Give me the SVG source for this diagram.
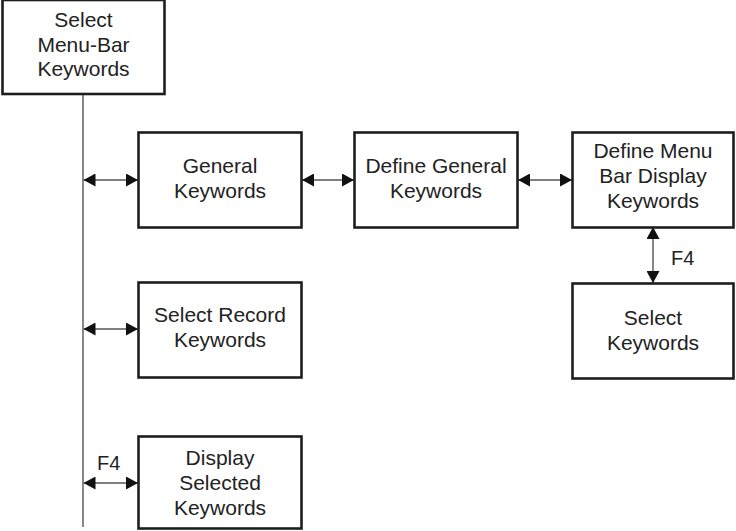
<svg xmlns="http://www.w3.org/2000/svg" width="736" height="531" viewBox="0 0 736 531">
  <style>
    .box { fill: #ffffff; stroke: #1e1e1e; stroke-width: 2.6; }
    .lbl { font-family: "Liberation Sans", Arial, sans-serif; font-size: 21px; fill: #222222; text-anchor: middle; }
    .tag { font-family: "Liberation Sans", Arial, sans-serif; font-size: 20px; fill: #222222; }
    .wire { fill: none; stroke: #555555; stroke-width: 1.4; }
    .link { fill: none; stroke: #555555; stroke-width: 1.4; marker-start: url(#head); marker-end: url(#head); }
  </style>
  <defs>
    <marker id="head" viewBox="0 0 12 13" refX="12" refY="6.5" markerWidth="12" markerHeight="13" markerUnits="userSpaceOnUse" orient="auto-start-reverse">
      <path d="M0,0 L12,6.5 L0,13 Z" fill="#111111"/>
    </marker>
  </defs>

  <rect width="736" height="531" fill="#ffffff"/>

  <!-- connectors -->
  <g id="connectors">
    <line class="wire" x1="83" y1="95" x2="83" y2="527"/>
    <line class="link" x1="83.5" y1="180" x2="138" y2="180"/>
    <line class="link" x1="302" y1="180" x2="354" y2="180"/>
    <line class="link" x1="518" y1="180" x2="572" y2="180"/>
    <line class="link" x1="653" y1="227" x2="653" y2="283"/>
    <line class="link" x1="83.5" y1="329" x2="138" y2="329"/>
    <line class="link" x1="83.5" y1="483" x2="138" y2="483"/>
    <text class="tag" x="671" y="265">F4</text>
    <text class="tag" x="97" y="470">F4</text>
  </g>

  <g id="select-menu-bar">
    <rect class="box" x="2.5" y="0" width="162" height="94"/>
    <text class="lbl" x="83.5" y="27">Select</text>
    <text class="lbl" x="83.5" y="52">Menu-Bar</text>
    <text class="lbl" x="83.5" y="76">Keywords</text>
  </g>

  <g id="general-keywords">
    <rect class="box" x="138.5" y="132.5" width="163" height="95"/>
    <text class="lbl" x="220" y="173">General</text>
    <text class="lbl" x="220" y="198">Keywords</text>
  </g>

  <g id="define-general">
    <rect class="box" x="354.5" y="132.5" width="163" height="95"/>
    <text class="lbl" x="436" y="173">Define General</text>
    <text class="lbl" x="436" y="198">Keywords</text>
  </g>

  <g id="define-menu-bar-display">
    <rect class="box" x="572.5" y="132.5" width="161" height="95"/>
    <text class="lbl" x="653" y="158">Define Menu</text>
    <text class="lbl" x="653" y="183">Bar Display</text>
    <text class="lbl" x="653" y="208">Keywords</text>
  </g>

  <g id="select-keywords">
    <rect class="box" x="572.5" y="283.5" width="161" height="95"/>
    <text class="lbl" x="653" y="325">Select</text>
    <text class="lbl" x="653" y="350">Keywords</text>
  </g>

  <g id="select-record">
    <rect class="box" x="138.5" y="282.5" width="163" height="95"/>
    <text class="lbl" x="220" y="322">Select Record</text>
    <text class="lbl" x="220" y="347">Keywords</text>
  </g>

  <g id="display-selected">
    <rect class="box" x="138.5" y="436.5" width="163" height="92"/>
    <text class="lbl" x="220" y="465">Display</text>
    <text class="lbl" x="220" y="490">Selected</text>
    <text class="lbl" x="220" y="515">Keywords</text>
  </g>
</svg>
